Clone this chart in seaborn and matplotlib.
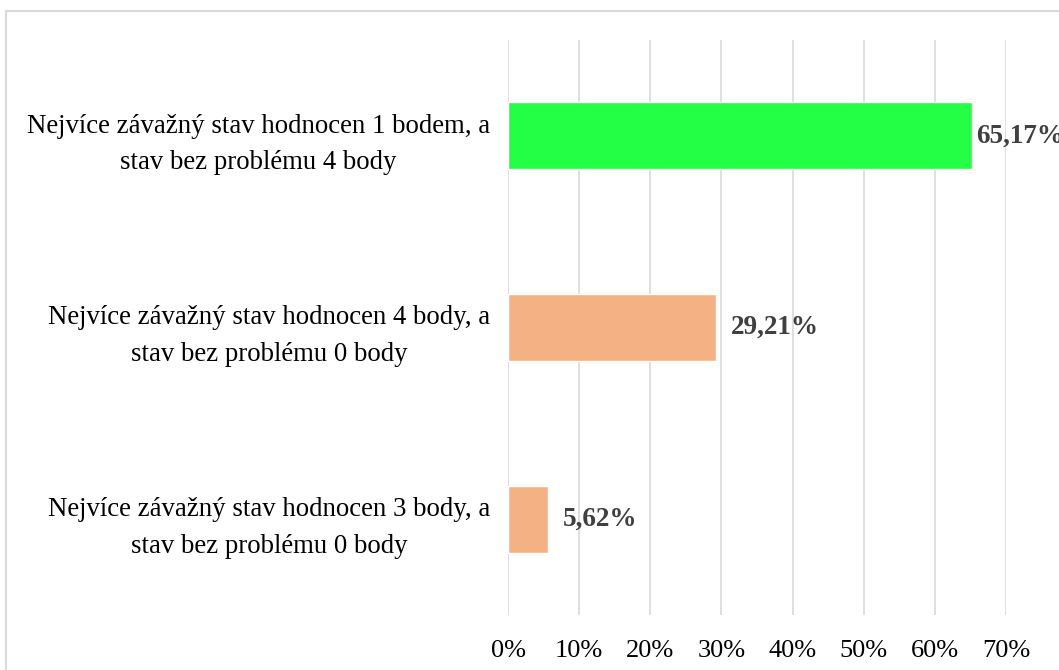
import matplotlib
matplotlib.use("Agg")
import matplotlib.pyplot as plt
import seaborn as sns
import pandas as pd
from matplotlib.patches import Rectangle
from matplotlib.ticker import FuncFormatter, MultipleLocator

categories = [
    "Nejvíce závažný stav hodnocen 1 bodem, a\nstav bez problému 4 body",
    "Nejvíce závažný stav hodnocen 4 body, a\nstav bez problému 0 body",
    "Nejvíce závažný stav hodnocen 3 body, a\nstav bez problému 0 body",
]
values = [65.17, 29.21, 5.62]
value_labels = ["65,17%", "29,21%", "5,62%"]
colors = ["#22FF44", "#F4B183", "#F4B183"]
label_offsets = [3.5, 11, 11]

sns.set_theme(style="white")
plt.rcParams["font.family"] = ["Liberation Serif", "DejaVu Serif"]

df = pd.DataFrame({"cat": categories, "val": values})

fig = plt.figure(figsize=(10.59, 6.70), dpi=100)
ax = fig.add_axes([508 / 1059, 1 - 615 / 670, (1006 - 508) / 1059, (615 - 40) / 670])

sns.barplot(data=df, y="cat", x="val", hue="cat", palette=colors, legend=False,
            width=0.35, ax=ax, saturation=1, orient="h")

ax.set_xlim(0, 70)
ax.set_ylim(2.5, -0.5)
ax.xaxis.set_major_locator(MultipleLocator(10))
ax.xaxis.set_major_formatter(FuncFormatter(lambda v, p: f"{int(round(v))}%"))
ax.grid(axis="x", color="#D9D9D9", linewidth=1.2)
ax.grid(axis="y", visible=False)
ax.set_axisbelow(True)
for s in ax.spines.values():
    s.set_visible(False)
ax.set_xlabel("")
ax.set_ylabel("")
ax.tick_params(axis="x", length=0, pad=18, labelsize=19, labelcolor="black")
ax.tick_params(axis="y", length=0, pad=13, labelsize=19.3, labelcolor="black")
for t in ax.get_yticklabels():
    t.set_multialignment("center")
    t.set_linespacing(1.6)

for i, (v, lab, off) in enumerate(zip(values, value_labels, label_offsets)):
    ax.annotate(lab, xy=(v, i), xytext=(off, 0), textcoords="offset points",
                va="center", ha="left", fontsize=19.5, fontweight="bold",
                color="#404040", annotation_clip=False)

fig.patches.append(Rectangle((6 / 1059, -0.05), 1.2, 1 - 11 / 670 + 0.05,
                             transform=fig.transFigure, fill=False,
                             edgecolor="#D9D9D9", linewidth=1.5))

fig.savefig("out.png", dpi=100)
